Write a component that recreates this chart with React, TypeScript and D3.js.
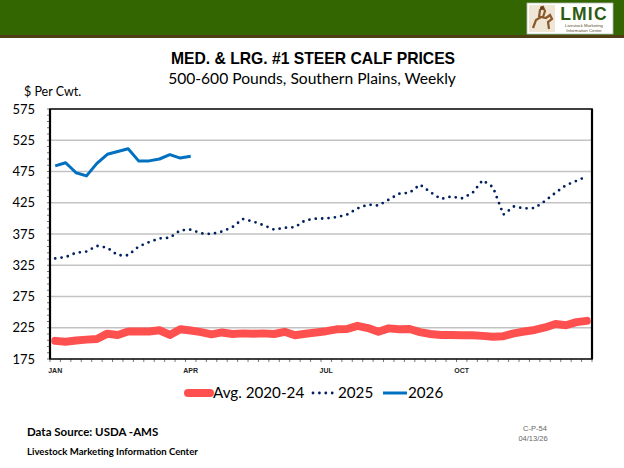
import * as d3 from 'd3';

// weekly series, Jan -> Dec (52 weeks), $ per cwt
const avg2020to24 = [
    204, 202.5, 204.5, 206, 207, 215.5, 213.5, 219, 219, 219, 221, 213.5, 222.5,
    220.5, 218, 214.5, 217.5, 215, 216, 215.5, 216, 215, 218.5, 213, 215.5, 217.5,
    219.5, 222.5, 223, 228, 224.5, 218.5, 224, 222.5, 223, 218, 215, 213.5, 213.5,
    213, 213, 212, 210.5, 211.5, 216, 219, 221.5, 225.5, 231, 229, 234, 236,
];
const prices2025 = [
    336, 338, 345, 347, 356, 353, 341, 341, 355, 362, 368, 369, 381, 382, 376, 375,
    379, 386, 399, 395, 389, 382, 385, 386, 397, 399.5, 400, 402, 406, 416, 422,
    420.5, 430, 439.5, 441, 454, 442, 431, 435, 432, 440, 461, 450, 406, 419, 416,
    416.5, 428, 441, 453, 460, 467,
];
const prices2026 = [484, 489, 473, 468, 488, 502.5, 507, 511.5, 492, 492, 495, 502, 496.5, 499.5];

const monthLabels = ['JAN', 'APR', 'JUL', 'OCT'];
const monthWeeks = [0, 13, 26, 39];
const yTicks = [175, 225, 275, 325, 375, 425, 475, 525, 575];

const W = 624;
const H = 468;
const plot = { left: 50, top: 109, right: 592, bottom: 359 };
const calibri = "Lato, 'Open Sans', sans-serif";
const arial = "'Liberation Sans', Arial, sans-serif";

export default function App() {
    const weeks = d3.range(avg2020to24.length);
    const x = d3.scaleBand<number>().domain(weeks).range([plot.left, plot.right]);
    const cx = (i: number) => (x(i) ?? 0) + x.bandwidth() / 2;
    const y = d3.scaleLinear().domain([175, 575]).range([plot.bottom, plot.top]);
    const line = d3.line<number>().x((_, i) => cx(i)).y(d => y(d));
    const minorTicks = d3.range(175, 576, 10);

    return (
        <svg width={W} height={H} style={{ position: 'absolute', left: 0, top: 0, background: '#fff' }}>
            {/* header band */}
            <rect x={0} y={0} width={W} height={36} fill="#336600" />
            <rect x={0} y={35} width={W} height={3} fill="#4f3d16" />
            <g transform="translate(527,3)">
                <rect width={86} height={31} fill="#fff" stroke="#bbb" strokeWidth={0.8} />
                <rect x={2} y={2} width={26} height={27} fill="#efe6d6" />
                <path d="M6,25 L9,17 L14,14 L19,15 L23,12 L25,16 L21,19 L22,26 M12,14 L13,7 L16,4 L18,8 L16,14"
                    fill="none" stroke="#8a5a2b" strokeWidth={2.2} />
                <circle cx={15} cy={5} r={2} fill="#6b3f1d" />
                <text x={57} y={17} textAnchor="middle" fill="#2d5a12" fontFamily={arial}
                    fontWeight="bold" fontSize={17.5} letterSpacing={1.2}>LMIC</text>
                <text x={57} y={23.5} textAnchor="middle" fill="#5a4a2a" fontFamily={arial}
                    fontSize={4.3}>Livestock Marketing</text>
                <text x={57} y={28.5} textAnchor="middle" fill="#5a4a2a" fontFamily={arial}
                    fontSize={4.3}>Information Center</text>
            </g>

            {/* titles */}
            <text x={313} y={64} textAnchor="middle" fontFamily={arial} fontWeight="bold"
                fontSize={15.7} fill="#000">MED. &amp; LRG. #1 STEER CALF PRICES</text>
            <text x={312} y={84} textAnchor="middle" fontFamily={calibri} fontSize={15.6}
                fill="#000">500-600 Pounds, Southern Plains, Weekly</text>
            <text x={24} y={96} fontFamily={calibri} fontSize={12.5} fill="#000">$ Per Cwt.</text>

            {/* gridlines */}
            {yTicks.slice(1, -1).map(t => (
                <line key={t} x1={plot.left} x2={plot.right} y1={y(t)} y2={y(t)}
                    stroke="#c3c3c3" strokeWidth={1.5} />
            ))}

            {/* y ticks and labels */}
            {minorTicks.map(t => (
                <line key={t} x1={plot.left - 3} x2={plot.left} y1={y(t)} y2={y(t)}
                    stroke="#555" strokeWidth={0.8} />
            ))}
            {yTicks.map(t => (
                <text key={t} x={35} y={y(t) + 4.5} textAnchor="end" fontFamily={calibri}
                    fontSize={13} fill="#000">{t}</text>
            ))}

            {/* x ticks and labels */}
            {d3.range(weeks.length + 1).map(i => {
                const xx = plot.left + i * x.step();
                return <line key={i} x1={xx} x2={xx} y1={plot.bottom} y2={plot.bottom + 3}
                    stroke="#555" strokeWidth={0.8} />;
            })}
            {monthLabels.map((m, i) => (
                <text key={m} x={cx(monthWeeks[i])} y={373} textAnchor="middle"
                    fontFamily={arial} fontWeight="bold" fontSize={7} fill="#222">{m}</text>
            ))}

            {/* frame */}
            <rect x={plot.left} y={plot.top} width={plot.right - plot.left} height={plot.bottom - plot.top}
                fill="none" stroke="#111" strokeWidth={1.6} />
            <line x1={plot.left} x2={plot.left} y1={plot.top} y2={plot.bottom} stroke="#000" strokeWidth={2.2} />
            <line x1={plot.right} x2={plot.right} y1={plot.top} y2={plot.bottom} stroke="#000" strokeWidth={2.2} />

            {/* series */}
            <path d={line(avg2020to24) ?? ''} fill="none" stroke="#ff5050" strokeWidth={8}
                strokeLinecap="round" strokeLinejoin="round" />
            <path d={line(prices2025) ?? ''} fill="none" stroke="#002060" strokeWidth={2.8}
                strokeDasharray="0 6.4" strokeLinecap="round" />
            <path d={line(prices2026) ?? ''} fill="none" stroke="#0070c0" strokeWidth={3}
                strokeLinejoin="round" />

            {/* legend */}
            <line x1={188} x2={210} y1={393} y2={393} stroke="#ff5050" strokeWidth={8} strokeLinecap="round" />
            <text x={213} y={398} fontFamily={calibri} fontSize={15.2} fill="#000">Avg. 2020-24</text>
            <line x1={313} x2={336} y1={393} y2={393} stroke="#002060" strokeWidth={2.8}
                strokeDasharray="0 6.4" strokeLinecap="round" />
            <text x={338} y={398} fontFamily={calibri} fontSize={15.2} fill="#000">2025</text>
            <line x1={383} x2={407} y1={393} y2={393} stroke="#0070c0" strokeWidth={3} />
            <text x={408} y={398} fontFamily={calibri} fontSize={15.2} fill="#000">2026</text>

            {/* footer */}
            <text x={27} y={436} fontFamily={calibri} fontWeight="bold" fontSize={11.5} fill="#000">Data Source: USDA -AMS</text>
            <text x={27} y={455} fontFamily={calibri} fontWeight="bold" fontSize={9.6} fill="#000">Livestock Marketing Information Center</text>
            <text x={535} y={431} textAnchor="middle" fontFamily={arial} fontSize={7.5} fill="#666">C-P-54</text>
            <text x={533} y={441} textAnchor="middle" fontFamily={arial} fontSize={7.5} fill="#666">04/13/26</text>
        </svg>
    );
}
